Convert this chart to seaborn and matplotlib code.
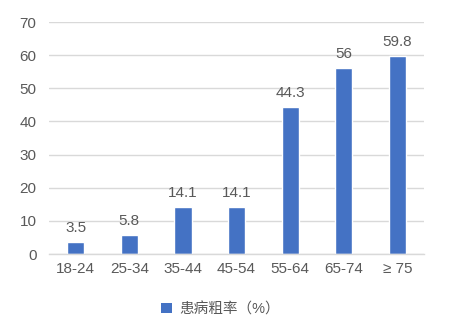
import matplotlib
matplotlib.use("Agg")
import matplotlib.pyplot as plt
import seaborn as sns
import pandas as pd
from matplotlib.patches import Patch

categories = ["18-24", "25-34", "35-44", "45-54", "55-64", "65-74", "≥ 75"]
values = [3.5, 5.8, 14.1, 14.1, 44.3, 56, 59.8]
value_labels = ["3.5", "5.8", "14.1", "14.1", "44.3", "56", "59.8"]
series_name = "患病粗率（%）"
yticks = [0, 10, 20, 30, 40, 50, 60, 70]

sns.set_style("white")
plt.rcParams['font.family'] = ['Liberation Sans', 'Noto Sans CJK SC', 'DejaVu Sans']

df = pd.DataFrame({"cat": categories, "val": values})
bar_color = "#4472C4"
text_color = "#595959"

fig = plt.figure(figsize=(4.58, 3.31), dpi=100)
ax = fig.add_axes([0.107, 0.2326, 0.819, 0.7009])
sns.barplot(data=df, x="cat", y="val", color=bar_color, width=0.32, ax=ax,
            saturation=1, errorbar=None)

ax.set_ylim(0, 70)
ax.set_yticks(yticks)
ax.set_xlim(-0.5, len(categories) - 0.5)
ax.set_xlabel("")
ax.set_ylabel("")
ax.yaxis.grid(True, color="#D9D9D9", linewidth=1)
ax.set_axisbelow(True)
for s in ["top", "right", "left"]:
    ax.spines[s].set_visible(False)
ax.spines["bottom"].set_color("#D9D9D9")
ax.spines["bottom"].set_linewidth(1)
ax.tick_params(axis="both", length=0, colors=text_color, labelsize=11)
ax.tick_params(axis="y", pad=9)
ax.tick_params(axis="x", pad=6)

for container in ax.containers:
    ax.bar_label(container, labels=value_labels, padding=5, color=text_color, fontsize=11)

handle = Patch(facecolor=bar_color, edgecolor="none")
fig.legend([handle], [series_name], loc="center", bbox_to_anchor=(0.482, 0.066),
           frameon=False, fontsize=10.5, labelcolor=text_color,
           handlelength=0.75, handleheight=0.75, handletextpad=0.5)

fig.savefig("out.png", dpi=100, facecolor="white")
